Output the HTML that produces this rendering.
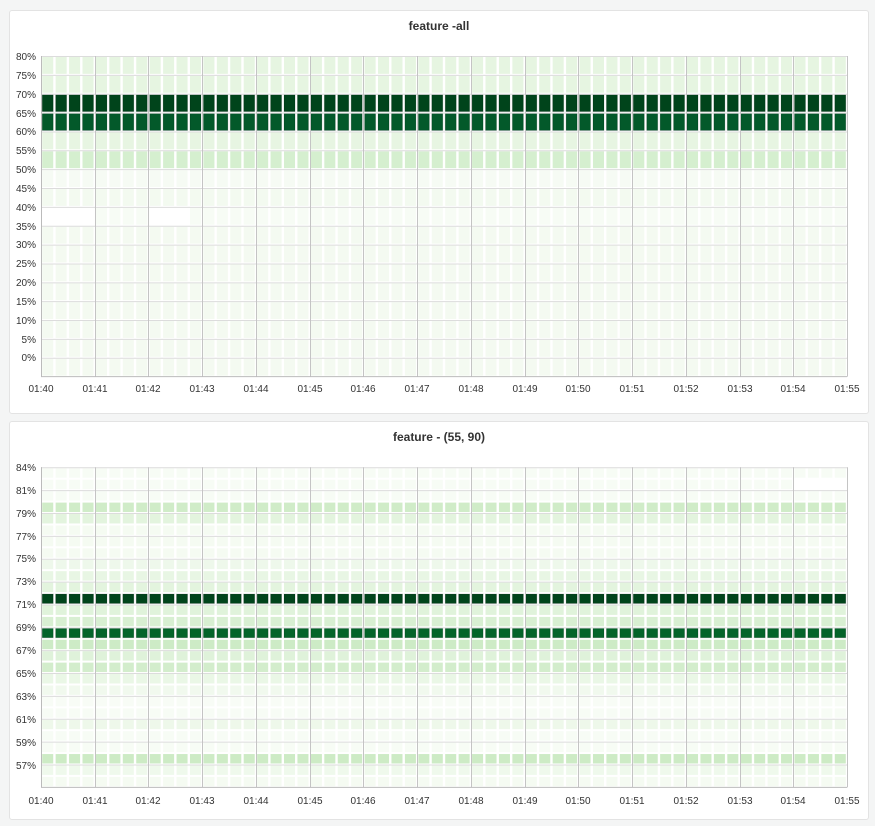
<!DOCTYPE html>
<html><head><meta charset="utf-8"><style>
body{margin:0;background:#f4f5f5;width:875px;height:826px;overflow:hidden;font-family:"Liberation Sans",sans-serif}
.p{position:absolute;left:9px;width:858px;background:#fff;border:1px solid #e3e3e3;border-radius:3px}
.t{position:absolute;left:0;width:100%;text-align:center;font-size:12px;font-weight:bold;color:#333}
svg{position:absolute;left:0;top:0}
text{font-family:"Liberation Sans",sans-serif;font-size:10px;fill:#333}
</style></head><body>
<div class="p" style="top:10px;height:402px"><div class="t" style="top:8px">feature -all</div></div>
<div class="p" style="top:421px;height:397px"><div class="t" style="top:8px">feature - (55, 90)</div></div>
<svg width="875" height="826" id="s">
<g id="g1"></g><g id="g2"></g>
<g text-anchor="end">
<text x="36" y="60">80%</text><text x="36" y="79">75%</text><text x="36" y="98">70%</text><text x="36" y="117">65%</text><text x="36" y="135">60%</text><text x="36" y="154">55%</text><text x="36" y="173">50%</text><text x="36" y="192">45%</text><text x="36" y="211">40%</text><text x="36" y="230">35%</text><text x="36" y="248">30%</text><text x="36" y="267">25%</text><text x="36" y="286">20%</text><text x="36" y="305">15%</text><text x="36" y="324">10%</text><text x="36" y="343">5%</text><text x="36" y="361">0%</text>
<text x="36" y="471">84%</text><text x="36" y="494">81%</text><text x="36" y="517">79%</text><text x="36" y="540">77%</text><text x="36" y="562">75%</text><text x="36" y="585">73%</text><text x="36" y="608">71%</text><text x="36" y="631">69%</text><text x="36" y="654">67%</text><text x="36" y="677">65%</text><text x="36" y="700">63%</text><text x="36" y="723">61%</text><text x="36" y="746">59%</text><text x="36" y="769">57%</text>
</g>
<g text-anchor="middle" id="xl">
<text x="41" y="392">01:40</text><text x="95" y="392">01:41</text><text x="148" y="392">01:42</text><text x="202" y="392">01:43</text><text x="256" y="392">01:44</text><text x="310" y="392">01:45</text><text x="363" y="392">01:46</text><text x="417" y="392">01:47</text><text x="471" y="392">01:48</text><text x="525" y="392">01:49</text><text x="578" y="392">01:50</text><text x="632" y="392">01:51</text><text x="686" y="392">01:52</text><text x="740" y="392">01:53</text><text x="793" y="392">01:54</text><text x="847" y="392">01:55</text>
<text x="41" y="804">01:40</text><text x="95" y="804">01:41</text><text x="148" y="804">01:42</text><text x="202" y="804">01:43</text><text x="256" y="804">01:44</text><text x="310" y="804">01:45</text><text x="363" y="804">01:46</text><text x="417" y="804">01:47</text><text x="471" y="804">01:48</text><text x="525" y="804">01:49</text><text x="578" y="804">01:50</text><text x="632" y="804">01:51</text><text x="686" y="804">01:52</text><text x="740" y="804">01:53</text><text x="793" y="804">01:54</text><text x="847" y="804">01:55</text>
</g>
</svg>
<script>
var NS="http://www.w3.org/2000/svg";
function r(g,x,y,w,h,f,sw){var e=document.createElementNS(NS,"rect");e.setAttribute("x",x);e.setAttribute("y",y);e.setAttribute("width",w);e.setAttribute("height",h);e.setAttribute("fill",f);if(sw){e.setAttribute("stroke","rgba(0,0,0,0.15)");e.setAttribute("stroke-width","1");}g.appendChild(e);}
function l(g,x1,y1,x2,y2,c){var e=document.createElementNS(NS,"line");e.setAttribute("x1",x1);e.setAttribute("y1",y1);e.setAttribute("x2",x2);e.setAttribute("y2",y2);e.setAttribute("stroke",c);e.setAttribute("stroke-width","1");g.appendChild(e);}
var X0=41,X1=847,cw=(X1-X0)/60;
function chart(g,top,rh,rows,blank){
 for(var k=0;k<rows.length;k++){for(var c=0;c<60;c++){
  if(blank&&blank(k,c))continue;
  var dark=rows[k].charAt(1)<'4';
  r(g,X0+c*cw+1.2,top+k*rh+1,cw-2.4,rh-2,rows[k],dark);}}
}
var g1=document.getElementById("g1"),g2=document.getElementById("g2");
var rows1=["#e6f5e1","#e6f5e1","#00441b","#03592a","#e7f5e2","#d5efcf","#f6fbf4","#f3faf0","#f7fcf5","#f4faf1","#f4faf1","#f4faf1","#f4faf1","#f4faf1","#f4faf1","#f4faf1","#f4faf1"];
var rh1=18.86,t1=56;
chart(g1,t1,rh1,rows1,function(k,c){return k==8&&(c<4||(c>=8&&c<11));});
for(var i=0;i<=16;i++){l(g1,X0,t1+i*rh1+.5,X1,t1+i*rh1+.5,"#dcdcdc");}
var b1=t1+17*rh1;
for(var m=0;m<=15;m++){var x=Math.round(X0+m*4*cw)+.5;l(g1,x,t1,x,b1,"#c4c4c4");}
l(g1,X0,b1,X1,b1,"#bbb");l(g1,X0+.5,t1,X0+.5,b1,"#bbb");
var rows2=["#f7fcf5","#f7fcf5","#f7fcf5","#d0ecc8","#e3f4de","#f5fbf2","#f5fbf2","#f5fbf2","#eef8eb","#e8f6e4","#e3f4de","#00441b","#e0f3db","#d8efd2","#036429","#cdebc6","#dff2da","#d3edcc","#eaf7e6","#f1f9ee","#f8fcf6","#f7fcf5","#eef8ea","#f7fcf5","#f7fcf5","#cdebc5","#eff9ec","#f5fbf2"];
var rh2=11.43,t2=467.3;
chart(g2,t2,rh2,rows2,function(k,c){return k==1&&c>=56;});
for(var i=0;i<=26;i+=2){var y=t2+i*rh2;l(g2,X0,y+.5,X1,y+.5,"#dcdcdc");}
var b2=t2+28*rh2;
for(var m=0;m<=15;m++){var x=Math.round(X0+m*4*cw)+.5;l(g2,x,t2,x,b2,"#c4c4c4");}
l(g2,X0,b2,X1,b2,"#bbb");l(g2,X0+.5,t2,X0+.5,b2,"#bbb");
</script>
</body></html>
